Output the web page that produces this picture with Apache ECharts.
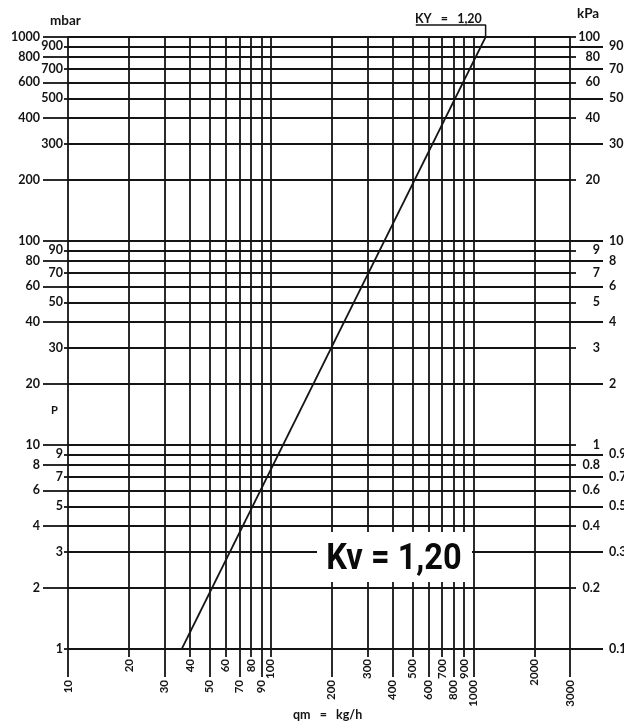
<!DOCTYPE html>
<html>
<head>
<meta charset="utf-8">
<script src="https://cdn.jsdelivr.net/npm/echarts@6/dist/echarts.min.js"></script>
<style>
  html, body { margin: 0; padding: 0; background: #fff; }
  #chart { width: 624px; height: 726px; }
</style>
</head>
<body>
<div id="chart"></div>
<script>
// Flow grid (kg/h) and its two staggered rows of tick labels
const flowGrid = [10, 20, 30, 40, 50, 60, 70, 80, 90, 100, 200, 300, 400, 500, 600, 700, 800, 900, 1000, 2000, 3000];
const flowLabelsUpper = [20, 40, 60, 80, 100, 300, 500, 700, 900, 2000];
const flowLabelsLower = [10, 30, 50, 70, 90, 200, 400, 600, 800, 1000, 3000];

// Pressure grid (mbar) with long / short label rows on the left
const mbarGrid = [1, 2, 3, 4, 5, 6, 7, 8, 9, 10, 20, 30, 40, 50, 60, 70, 80, 90, 100, 200, 300, 400, 500, 600, 700, 800, 900, 1000];
const mbarLabelsOuter = [2, 4, 6, 8, 10, 20, 40, 60, 80, 100, 200, 400, 600, 800, 1000];
const mbarLabelsInner = [1, 3, 5, 7, 9, 30, 50, 70, 90, 300, 500, 700, 900];

// Same pressure scale in kPa on the right
const kpaLabelsInner = [0.2, 0.4, 0.6, 0.8, 1, 3, 5, 7, 9, 20, 40, 60, 80, 100];
const kpaLabelsOuter = [0.1, 0.3, 0.5, 0.7, 0.9, 2, 4, 6, 8, 10, 30, 50, 70, 90];

// Kv = 1,20 characteristic: flow vs pressure drop
const kvFlow = [36.4, 1150];
const kvPressure = [1, 1000];

// Leader from the top of the characteristic to its tag
const leaderFlow = [1150, 1150, 520];
const leaderPressure = [1000, 1145, 1145];

const INK = '#141414';
const LW = 1.8;
const labelFont = { color: INK, fontFamily: 'Lato', fontWeight: 'bold', fontSize: 12.5 };
const fmt = v => String(+(+v).toPrecision(6));

function flowAxis(extra) {
  return Object.assign({
    type: 'log', logBase: 10, min: 10, max: 3000, gridIndex: 0, position: 'bottom',
    axisLine: { show: false }, splitLine: { show: false },
    axisTick: { show: false }, axisLabel: { show: false }
  }, extra);
}
function pressAxis(min, max, position, extra) {
  return Object.assign({
    type: 'log', logBase: 10, min: min, max: max, gridIndex: 0, position: position,
    axisLine: { show: false }, splitLine: { show: false },
    axisTick: { show: false }, axisLabel: { show: false }
  }, extra);
}
const tick = (values, length) => ({ show: true, customValues: values, length: length, inside: false, lineStyle: { color: INK, width: LW } });

const chart = echarts.init(document.getElementById('chart'), null, { renderer: 'canvas' });

chart.setOption({
  animation: false,
  backgroundColor: '#fff',
  grid: { left: 68, right: 54, top: 37, bottom: 77, containLabel: false, outerBoundsMode: 'none' },
  xAxis: [
    flowAxis({ axisTick: { show: false, customValues: flowGrid }, splitLine: { show: true, lineStyle: { color: INK, width: LW } } }),
    flowAxis({ axisTick: tick(flowLabelsUpper, 8),
      axisLabel: Object.assign({ show: true, customValues: flowLabelsUpper, rotate: 90, margin: 10, formatter: fmt }, labelFont, { fontSize: 11.5 }) }),
    flowAxis({ axisTick: tick(flowLabelsLower, 28),
      axisLabel: Object.assign({ show: true, customValues: flowLabelsLower, rotate: 90, margin: 31, formatter: fmt }, labelFont, { fontSize: 11.5 }) })
  ],
  yAxis: [
    pressAxis(1, 1000, 'left', { axisTick: { show: false, customValues: mbarGrid }, splitLine: { show: true, lineStyle: { color: INK, width: LW } } }),
    pressAxis(1, 1000, 'left', { axisTick: tick(mbarLabelsOuter, 25),
      axisLabel: Object.assign({ show: true, customValues: mbarLabelsOuter, margin: 28, formatter: fmt }, labelFont) }),
    pressAxis(1, 1000, 'left', { axisTick: tick(mbarLabelsInner, 4),
      axisLabel: Object.assign({ show: true, customValues: mbarLabelsInner, margin: 5, formatter: fmt }, labelFont) }),
    pressAxis(0.1, 100, 'right', { axisTick: tick(kpaLabelsInner, 6),
      axisLabel: Object.assign({ show: true, customValues: kpaLabelsInner, margin: 30, align: 'right', formatter: fmt }, labelFont) }),
    pressAxis(0.1, 100, 'right', { axisTick: tick(kpaLabelsOuter, 33),
      axisLabel: Object.assign({ show: true, customValues: kpaLabelsOuter, margin: 39, align: 'left', formatter: fmt }, labelFont) })
  ],
  series: [
    {
      name: 'Kv 1,20', type: 'line', xAxisIndex: 0, yAxisIndex: 0,
      data: kvFlow.map((f, i) => [f, kvPressure[i]]),
      symbol: 'none', lineStyle: { color: INK, width: 1.7 }, clip: false, z: 5
    },
    {
      name: 'leader', type: 'line', xAxisIndex: 0, yAxisIndex: 0,
      data: leaderFlow.map((f, i) => [f, leaderPressure[i]]),
      symbol: 'none', lineStyle: { color: INK, width: 1.5 }, clip: false, z: 5
    }
  ],
  graphic: [
    { type: 'text', left: 50, top: 14, z: 50, style: { text: 'mbar', font: 'bold 13.5px Lato', fill: INK } },
    { type: 'text', left: 577, top: 7, z: 50, style: { text: 'kPa', font: 'bold 13.5px Lato', fill: INK } },
    { type: 'text', left: 51, top: 405, z: 50, style: { text: 'P', font: 'bold 11px Lato', fill: INK } },
    { type: 'text', left: 415, top: 12, z: 50, style: { text: 'KY   =   1,20', font: 'bold 12.5px Lato', fill: INK } },
    { type: 'text', left: 293, top: 708, z: 50, style: { text: 'qm   =   kg/h', font: 'bold 12.5px Lato', fill: INK } },
    { type: 'rect', z: 100, shape: { x: 317, y: 532, width: 155, height: 50 }, style: { fill: '#fff' } },
    { type: 'text', z: 101, x: 394, y: 560, scaleX: 0.88,
      style: { text: 'Kv = 1,20', font: 'bold 37px Roboto', fill: '#0a0a0a', textAlign: 'center', textVerticalAlign: 'middle' } }
  ]
});
</script>
</body>
</html>
